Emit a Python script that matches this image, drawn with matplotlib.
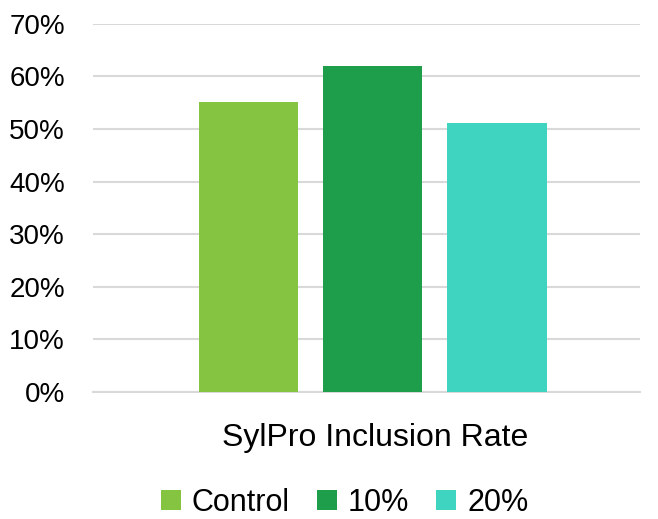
import matplotlib
matplotlib.use("Agg")
import matplotlib.pyplot as plt
from matplotlib.ticker import PercentFormatter

# values
groups = ["Control", "10%", "20%"]
rates = [55.1, 62.0, 51.1]
colors = ["#84C441", "#1E9E4A", "#3FD4BF"]
y_ticks = [0, 10, 20, 30, 40, 50, 60, 70]

plt.rcParams["font.family"] = ["Liberation Sans", "DejaVu Sans"]

fig = plt.figure(figsize=(6.58, 5.19), dpi=100)
ax = fig.add_axes([0.141, 0.245, 0.832, 0.709])

for i, (name, val, col) in enumerate(zip(groups, rates, colors)):
    ax.bar(i, val, width=0.8, color=col, label=name, zorder=3)

ax.set_xlim(-1.25, 3.15)
ax.set_ylim(0, 70)
ax.set_yticks(y_ticks)
ax.yaxis.set_major_formatter(PercentFormatter(decimals=0))
ax.set_xticks([])
ax.grid(axis="y", color="#D9D9D9", linewidth=1.5, zorder=0)
for side in ["top", "right", "left"]:
    ax.spines[side].set_visible(False)
ax.spines["bottom"].set_color("#D9D9D9")
ax.spines["bottom"].set_linewidth(1.5)
ax.tick_params(axis="y", length=0, labelsize=20, pad=20)

ax.set_xlabel("SylPro Inclusion Rate", fontsize=23)
ax.xaxis.set_label_coords(0.515, -0.085)

ax.legend(loc="upper center", bbox_to_anchor=(0.46, -0.186), ncol=3,
          frameon=False, fontsize=22, handlelength=0.65, handleheight=0.65,
          handletextpad=0.35, columnspacing=0.9)

fig.savefig("out.png", dpi=100)
